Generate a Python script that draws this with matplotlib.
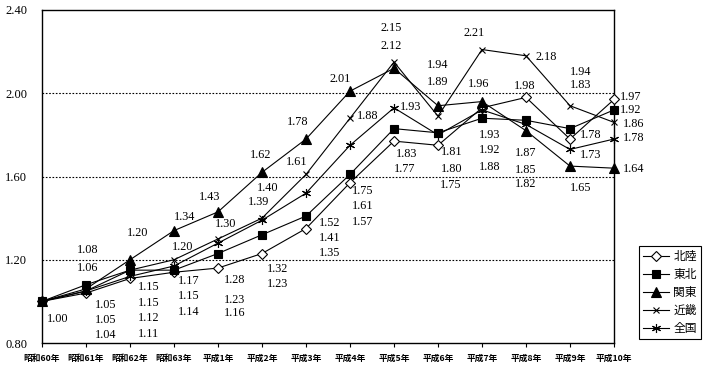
import numpy as np
import matplotlib.pyplot as plt

# categories (years)
years = ['昭和60年', '昭和61年', '昭和62年', '昭和63年', '平成1年', '平成2年', '平成3年',
         '平成4年', '平成5年', '平成6年', '平成7年', '平成8年', '平成9年', '平成10年']

# index values per region
hokuriku = [1.00, 1.04, 1.11, 1.14, 1.16, 1.23, 1.35, 1.57, 1.77, 1.75, 1.93, 1.98, 1.78, 1.97]
tohoku   = [1.00, 1.08, 1.15, 1.15, 1.23, 1.32, 1.41, 1.61, 1.83, 1.81, 1.88, 1.87, 1.83, 1.92]
kanto    = [1.00, 1.06, 1.20, 1.34, 1.43, 1.62, 1.78, 2.01, 2.12, 1.94, 1.96, 1.82, 1.65, 1.64]
kinki    = [1.00, 1.05, 1.15, 1.20, 1.30, 1.40, 1.61, 1.88, 2.15, 1.89, 2.21, 2.18, 1.94, 1.86]
zenkoku  = [1.00, 1.05, 1.12, 1.17, 1.28, 1.39, 1.52, 1.75, 1.93, 1.80, 1.92, 1.85, 1.73, 1.78]

names = ['北陸', '東北', '関東', '近畿', '全国']

# data label offsets in pixels (dx, dy), None = no label
off_hokuriku = [(16, -18), (20, -42), (19, -56), (15, -40), (17, -45), (16, -30), (24, -24),
                (13, -39), (11, -28), (13, -40), (8, -27), (-1, 11), (21, 4), (17, 2)]
off_tohoku = [None, (2, 35), (19, -17), (15, -26), (17, -46), (16, -34), (24, -22),
              (13, -32), (13, -25), (14, -19), (8, -49), (0, -33), (11, 44), (17, 0)]
off_kanto = [None, (2, 21), (8, 27), (11, 14), (-8, 15), (-1, 17), (-8, 17),
             (-10, 12), (-3, 22), (0, 41), (-3, 18), (0, -53), (11, -22), (20, -1)]
off_kinki = [None, (20, -14), (19, -33), (9, 13), (8, 15), (6, 30), (-9, 12),
             (18, 2), (-3, 34), (0, 34), (-8, 17), (20, -1), (11, 34), (20, -2)]
off_zenkoku = [None, (20, -29), (19, -42), (15, -15), (17, -37), (-3, 18), (24, -30),
               (13, -46), (17, 1), (14, -34), (8, -40), (0, -46), (21, -6), (20, 1)]

num_font = ['Liberation Serif', 'DejaVu Serif']
jp_font = ['Noto Sans CJK JP', 'DejaVu Sans']

fig = plt.figure(figsize=(7.05, 3.70), dpi=100)
ax = fig.add_axes([42/705, 27/370, 572/705, 333/370])

x = np.arange(len(years))
styles = [
    dict(marker='D', markersize=5, markerfacecolor='white'),
    dict(marker='s', markersize=6, markerfacecolor='black'),
    dict(marker='^', markersize=6.5, markerfacecolor='black'),
    dict(marker='x', markersize=5),
    dict(marker=(6, 2, 0), markersize=6.5),
]
series = [hokuriku, tohoku, kanto, kinki, zenkoku]
offsets = [off_hokuriku, off_tohoku, off_kanto, off_kinki, off_zenkoku]

for vals, name, st, offs in zip(series, names, styles, offsets):
    ax.plot(x, vals, color='black', lw=0.8, markeredgecolor='black',
            markeredgewidth=0.8, label=name, clip_on=False, zorder=3, **st)
    for i, v in enumerate(vals):
        if offs[i] is None:
            continue
        ax.annotate('%.2f' % v, xy=(i, v), xytext=offs[i], textcoords='offset pixels',
                    ha='center', va='center', fontsize=8.8, family=num_font,
                    annotation_clip=False, zorder=4)

for g in [1.2, 1.6, 2.0]:
    ax.axhline(g, color='black', lw=0.8, ls=(0, (1.5, 1.5)), zorder=1)

ax.set_xlim(0, len(years) - 1)
ax.set_ylim(0.8, 2.4)
ax.set_yticks([0.8, 1.2, 1.6, 2.0, 2.4])
ax.set_yticklabels(['%.2f' % t for t in [0.8, 1.2, 1.6, 2.0, 2.4]], family=num_font, fontsize=9)
ax.tick_params(axis='y', length=0, pad=10.5)
ax.set_xticks(x)
ax.set_xticklabels(years, family=jp_font, fontsize=6.3, fontweight='bold')
ax.tick_params(axis='x', direction='out', length=3, width=0.8, pad=5)
for s in ax.spines.values():
    s.set_linewidth(1.0)

leg = ax.legend(loc='lower right', bbox_to_anchor=(701/705, 31/370),
                bbox_transform=fig.transFigure, borderaxespad=0, fancybox=False,
                edgecolor='black', framealpha=1, handlelength=2.2, handletextpad=0.4,
                labelspacing=0.42, borderpad=0.35, prop={'family': jp_font, 'size': 8.5})
leg.get_frame().set_linewidth(0.8)

fig.savefig('out.png', dpi=100)
